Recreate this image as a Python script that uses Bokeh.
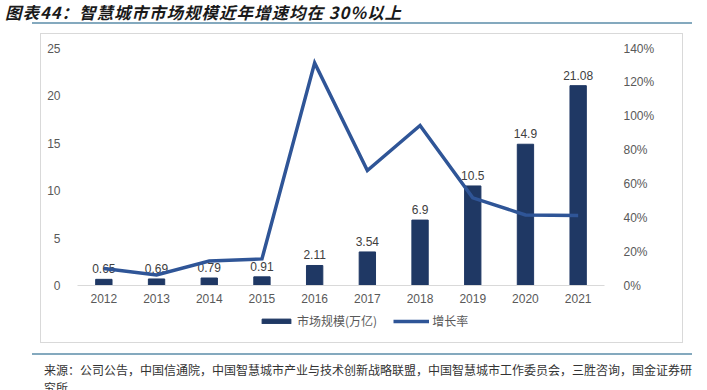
from bokeh.plotting import figure
from bokeh.layouts import column
from bokeh.models import (ColumnDataSource, FactorRange, Range1d, LinearAxis, FixedTicker,
                          NumeralTickFormatter, LabelSet, Legend, LegendItem, Div)
from bokeh.core.properties import value
from bokeh.embed import file_html
from bokeh.resources import INLINE

# ---- data ----
years = ["2012", "2013", "2014", "2015", "2016", "2017", "2018", "2019", "2020", "2021"]
market = [0.65, 0.69, 0.79, 0.91, 2.11, 3.54, 6.9, 10.5, 14.9, 21.08]
market_labels = ["0.65", "0.69", "0.79", "0.91", "2.11", "3.54", "6.9", "10.5", "14.9", "21.08"]
growth = [0.10, 0.062, 0.145, 0.157, 1.315, 0.679, 0.945, 0.518, 0.417, 0.413]
left_ticks = [0, 5, 10, 15, 20, 25]
right_ticks = [0, 0.2, 0.4, 0.6, 0.8, 1.0, 1.2, 1.4]

title_text = "图表44：智慧城市市场规模近年增速均在 30%以上"
source_line1 = "来源：公司公告，中国信通院，中国智慧城市产业与技术创新战略联盟，中国智慧城市工作委员会，三胜咨询，国金证券研"
source_line2 = "究所"
bar_name = "市场规模(万亿)"
line_name = "增长率"

LATIN = "Liberation Sans"
CJK = "Noto Sans CJK SC"
BAR_C = "#1F3864"
LINE_C = "#2F5597"
TICK_C = "#595959"
RULE_C = "#84A9BE"

src = ColumnDataSource(dict(year=years, market=market, lbl=market_labels, growth=growth))

# ---- header (title + rule) ----
head = Div(width=707, height=33, margin=0, text=(
    f'<div style="margin-left:5px;height:24px;line-height:24px;font-family:\'{CJK}\';'
    f'font-weight:bold;font-style:italic;font-size:16.5px;letter-spacing:1px;color:#1a1a1a;white-space:nowrap;">'
    f'{title_text}</div>'
    f'<div style="margin-left:32px;margin-top:-2px;width:660px;height:0;border-top:2px solid {RULE_C};"></div>'))

# ---- chart ----
PW = 641
PH = 276          # page y 34 .. 310
p = figure(x_range=FactorRange(*years), y_range=Range1d(0, 25),
           width=PW, height=PH, output_backend="svg", toolbar_location=None,
           title=None, min_border_left=36, min_border_right=PW - 36 - 527,
           min_border_top=14, min_border_bottom=PH - 14 - 237)
p.outline_line_color = None
p.background_fill_color = "white"
p.border_fill_color = "white"
p.xgrid.visible = False
p.ygrid.visible = False
p.extra_y_ranges = {"pct": Range1d(0, 1.4)}

p.vbar(x="year", top="market", width=0.31, source=src, fill_color=BAR_C, line_color=BAR_C)
p.line(x="year", y="growth", source=src, y_range_name="pct",
       line_color=LINE_C, line_width=3.5, line_join="miter")

labels = LabelSet(x="year", y="market", text="lbl", source=src, y_offset=6,
                  text_align="center", text_baseline="bottom",
                  text_font=value(LATIN), text_font_size=value("12px"),
                  text_color="#404040", level="underlay")
p.add_layout(labels)

xa = p.xaxis[0]
xa.axis_line_color = "#D9D9D9"
xa.major_tick_line_color = None
xa.minor_tick_line_color = None
xa.major_label_text_font = LATIN
xa.major_label_text_font_size = "12px"
xa.major_label_text_color = TICK_C
xa.major_label_standoff = 2

ya = p.yaxis[0]
ya.ticker = FixedTicker(ticks=left_ticks)
ya.axis_line_color = None
ya.major_tick_line_color = None
ya.minor_tick_line_color = None
ya.major_label_text_font = LATIN
ya.major_label_text_font_size = "12px"
ya.major_label_text_color = TICK_C
ya.major_label_standoff = 11

ra = LinearAxis(y_range_name="pct", ticker=FixedTicker(ticks=right_ticks),
                formatter=NumeralTickFormatter(format="0%"))
ra.axis_line_color = None
ra.major_tick_line_color = None
ra.minor_tick_line_color = None
ra.major_label_text_font = LATIN
ra.major_label_text_font_size = "12px"
ra.major_label_text_color = TICK_C
ra.major_label_standoff = 13
p.add_layout(ra, "right")

# ---- legend strip (page y 310 .. 342) ----
# same data drawn far outside this strip's view, only its legend shows
LH = 32
lf = figure(width=PW, height=LH, x_range=p.x_range, y_range=Range1d(100, 101),
            output_backend="svg", toolbar_location=None, title=None,
            x_axis_location=None, y_axis_location=None, min_border=0)
lf.outline_line_color = None
lf.xgrid.visible = False
lf.ygrid.visible = False
lbar = lf.vbar(x="year", top="market", width=0.31, source=src, fill_color=BAR_C, line_color=BAR_C)
lline = lf.line(x="year", y="growth", source=src, line_color=LINE_C, line_width=3.5)
legend = Legend(items=[LegendItem(label=bar_name, renderers=[lbar]),
                       LegendItem(label=line_name, renderers=[lline])],
                orientation="horizontal", location=(259 - 41 - 37, 13),
                glyph_width=36, glyph_height=6, label_standoff=3, spacing=16,
                padding=0, margin=0, border_line_color=None, background_fill_alpha=0,
                label_text_font=CJK, label_text_font_size="12px",
                label_text_color=TICK_C, label_height=14)
lf.add_layout(legend)

box = column(p, lf, spacing=0, margin=(1, 0, 0, 41),
             styles={"outline": "1px solid #D9D9D9"})

# ---- footer (rule + source) ----
foot = Div(width=707, height=48, margin=0, styles={"overflow": "hidden"}, text=(
    f'<div style="margin-left:32px;margin-top:11px;width:660px;height:0;border-top:2px solid {RULE_C};"></div>'
    f'<div style="margin-left:44px;margin-top:6px;font-family:\'{CJK}\';font-size:12px;'
    f'line-height:18px;color:#333333;white-space:nowrap;">{source_line1}<br>{source_line2}</div>'))

layout = column(head, box, foot, spacing=0, margin=0)
open("out.html", "w").write(file_html(layout, INLINE))
